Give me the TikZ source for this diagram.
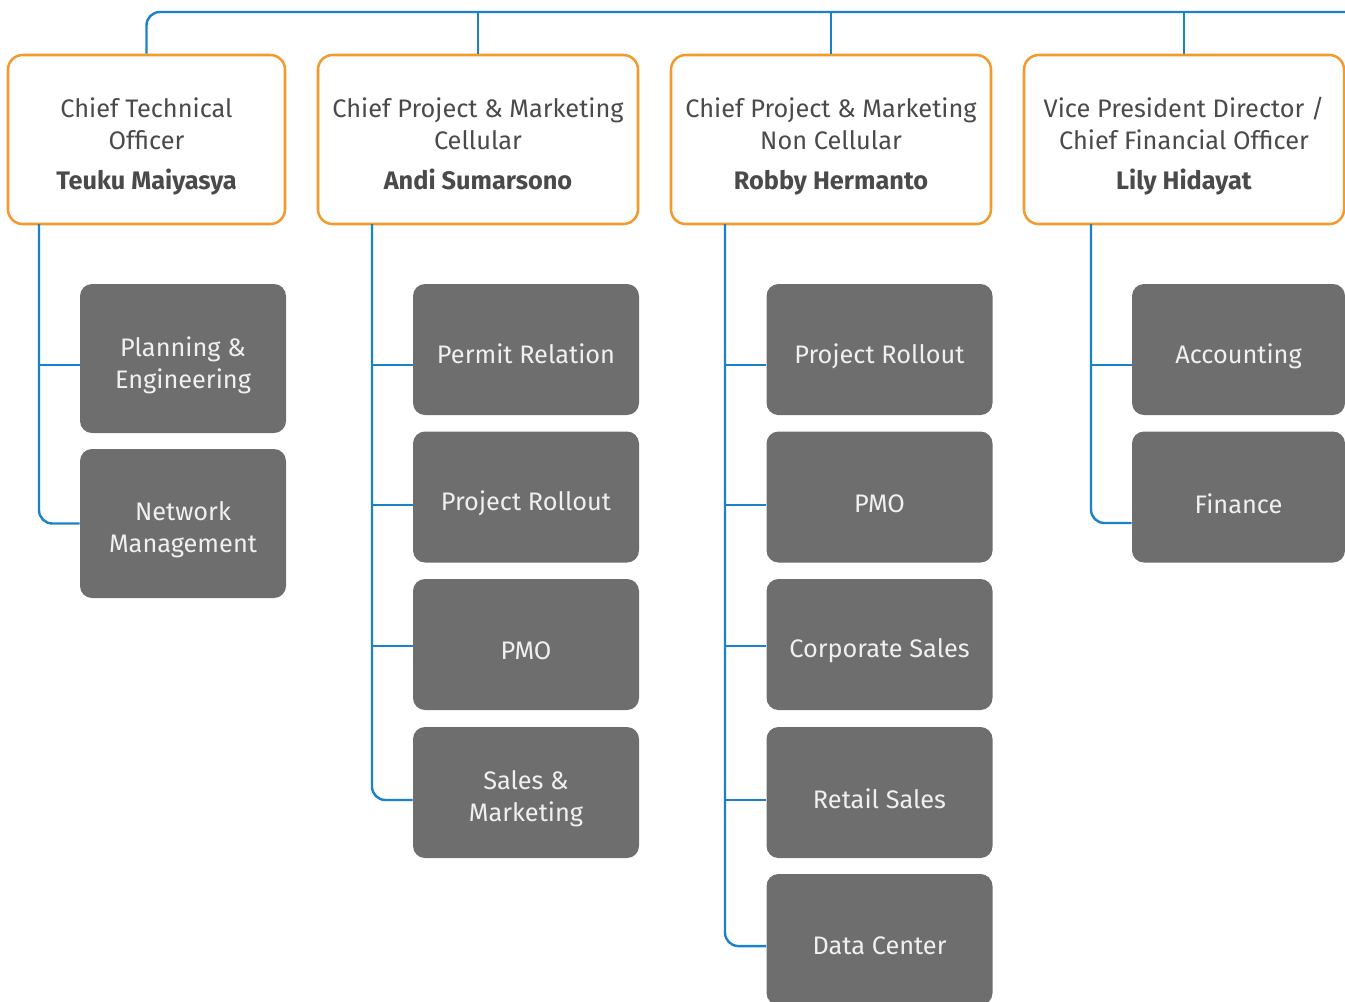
\documentclass[tikz,border=0pt]{standalone}
\usepackage{fontspec}
\setmainfont{Fira Sans}
\definecolor{linkblue}{HTML}{1A82C8}
\definecolor{headorange}{HTML}{F29A2E}
\definecolor{unitgrey}{HTML}{6D6E6D}
\definecolor{headtext}{HTML}{4A4A4A}
\tikzset{
	head/.style={draw=headorange,line width=1.9pt,rounded corners=11pt,fill=white,minimum width=240pt,minimum height=126.75pt},
	headlabel/.style={text=headtext,align=center,font=\fontsize{19}{24}\selectfont,yshift=-5.25pt},
	unit/.style={fill=unitgrey,rounded corners=9pt,minimum width=169.5pt,minimum height=98.25pt},
	unitlabel/.style={text=white!94!black,align=center,font=\fontsize{19}{24}\selectfont,yshift=-5pt},
	link/.style={draw=linkblue,line width=1.8pt,rounded corners=10pt},
}
\begin{document}
\begin{tikzpicture}[x=0.75pt,y=-0.75pt]
		\clip (0,0) rectangle (1345,1001);
		% heads
		\node[head,minimum width=207.75pt,label={[headlabel]center:{Chief Technical\\Officer\\[6pt]\textbf{Teuku Maiyasya}}}] (cto) at (146.5,139.5) {};
		\node[head,label={[headlabel,yshift=2.25pt]center:{Chief Project \& Marketing\\Cellular\\[6pt]\textbf{Andi Sumarsono}}}] (cpmc) at (478,139.5) {};
		\node[head,label={[headlabel]center:{Chief Project \& Marketing\\Non Cellular\\[6pt]\textbf{Robby Hermanto}}}] (cpmn) at (831,139.5) {};
		\node[head,label={[headlabel]center:{Vice President Director /\\Chief Financial Officer\\[6pt]\textbf{Lily Hidayat}}}] (cfo) at (1184,139.5) {};
		\coordinate (topend) at (1345,12);
		\draw[link] (cto.north) |- (topend);
		\draw[link] (cpmc.north) -- (cpmc.north |- topend);
		\draw[link] (cpmn.north) -- (cpmn.north |- topend);
		\draw[link] (cfo.north) -- (cfo.north |- topend);
		% units
		\node[unit,minimum width=154.5pt,minimum height=111.75pt,label={[unitlabel]center:{Planning \&\\Engineering}}] (plan) at (183,358.5) {};
		\node[unit,minimum width=154.5pt,minimum height=111.75pt,label={[unitlabel]center:{Network\\Management}}] (netw) at (183,523.5) {};
		\node[unit,label={[unitlabel,yshift=1.5pt]center:Permit Relation}] (permit) at (526,349.5) {};
		\node[unit,label={[unitlabel]center:Project Rollout}] (rolloutc) at (526,497) {};
		\node[unit,label={[unitlabel]center:PMO}] (pmoc) at (526,644.5) {};
		\node[unit,label={[unitlabel]center:{Sales \&\\Marketing}}] (salesm) at (526,792.5) {};
		\node[unit,label={[unitlabel]center:Project Rollout}] (rolloutn) at (879.5,349.5) {};
		\node[unit,label={[unitlabel]center:PMO}] (pmon) at (879.5,497) {};
		\node[unit,label={[unitlabel]center:Corporate Sales}] (corp) at (879.5,644.5) {};
		\node[unit,label={[unitlabel]center:Retail Sales}] (retail) at (879.5,792.5) {};
		\node[unit,label={[unitlabel]center:Data Center}] (datac) at (879.5,939.5) {};
		\node[unit,minimum width=159.75pt,label={[unitlabel]center:Accounting}] (acct) at (1238.5,349.5) {};
		\node[unit,minimum width=159.75pt,label={[unitlabel]center:Finance}] (fin) at (1238.5,497) {};
		% branches
		\coordinate (ctoSpine) at (39,224);
		\coordinate (cpmcSpine) at (372,224);
		\coordinate (cpmnSpine) at (725,224);
		\coordinate (cfoSpine) at (1091,224);
		\draw[link] (ctoSpine) |- (netw.west);
		\draw[link] ([yshift=-4.9pt]plan.west) -- ([yshift=-4.9pt]plan.west -| ctoSpine);
		\draw[link] (cpmcSpine) |- ([yshift=-5.6pt]salesm.west);
		\draw[link] ([yshift=-11.6pt]permit.west) -- ([yshift=-11.6pt]permit.west -| cpmcSpine);
		\draw[link] ([yshift=-6pt]rolloutc.west) -- ([yshift=-6pt]rolloutc.west -| cpmcSpine);
		\draw[link] ([yshift=-1.1pt]pmoc.west) -- ([yshift=-1.1pt]pmoc.west -| cpmcSpine);
		\draw[link] (cpmnSpine) |- ([yshift=-4.9pt]datac.west);
		\draw[link] ([yshift=-11.6pt]rolloutn.west) -- ([yshift=-11.6pt]rolloutn.west -| cpmnSpine);
		\draw[link] ([yshift=-6pt]pmon.west) -- ([yshift=-6pt]pmon.west -| cpmnSpine);
		\draw[link] ([yshift=-1.1pt]corp.west) -- ([yshift=-1.1pt]corp.west -| cpmnSpine);
		\draw[link] ([yshift=-5.6pt]retail.west) -- ([yshift=-5.6pt]retail.west -| cpmnSpine);
		\draw[link] (cfoSpine) |- ([yshift=-19.5pt]fin.west);
		\draw[link] ([yshift=-11.6pt]acct.west) -- ([yshift=-11.6pt]acct.west -| cfoSpine);
\end{tikzpicture}
\end{document}
